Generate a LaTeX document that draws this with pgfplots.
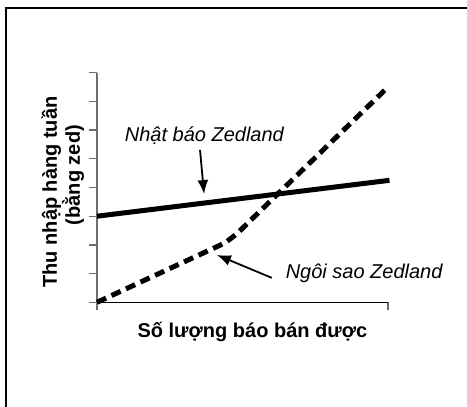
\documentclass[border=0pt]{standalone}
\usepackage{pgfplots}
\pgfplotsset{compat=1.18}
\usepackage{fontspec}
\setmainfont{Liberation Sans}
\usetikzlibrary{arrows.meta}
\definecolor{axgray}{RGB}{110,110,110}
\begin{document}
\begin{tikzpicture}
\useasboundingbox (-97bp,-104.7bp) rectangle (370bp,302.3bp);
\draw[line width=2bp] (-91bp,-130bp) -- (-91bp,294.3bp) -- (390bp,294.3bp);
\begin{axis}[
  at={(0,0)}, anchor=south west,
  scale only axis, width=291bp, height=229.6bp,
  xmin=0, xmax=10, ymin=0, ymax=8,
  axis x line*=bottom, axis y line*=left,
  x axis line style={black, line width=1bp, -},
  y axis line style={axgray, line width=1.3bp, -},
  xtick={0,10}, xticklabels={},
  ytick={0,1,...,8}, yticklabels={},
  tick align=outside,
  major tick length=8bp,
  tick style={axgray, line width=1.3bp},
  clip=false,
  xlabel={\bfseries Số lượng báo bán được},
  xlabel style={at={([yshift=-34.7bp]axis description cs:0.534,0)}, anchor=base, font=\fontsize{20bp}{22bp}\selectfont},
  ylabel={\bfseries Thu nhập hàng tuần},
  ylabel style={at={([xshift=-40bp]axis description cs:0,0.48)}, anchor=base, font=\fontsize{20bp}{22bp}\selectfont},
]
\addplot[black, line width=5bp] coordinates {(0,3) (10.05,4.25)};
\addplot[black, line width=5bp, dash pattern=on 10bp off 6bp] coordinates {(0,0) (4.4,2.07) (4.8,2.38) (5.2,2.78) (10,7.5)};
\node[rotate=90, anchor=base, font=\fontsize{20bp}{22bp}\selectfont\bfseries] at ([xshift=-17bp]axis description cs:0,0.554) {(bằng zed)};
\node[anchor=base, font=\fontsize{20bp}{22bp}\selectfont\itshape] at (axis cs:3.69,5.6) {Nhật báo Zedland};
\node[anchor=base, font=\fontsize{20bp}{22bp}\selectfont\itshape] at (axis cs:9.18,0.836) {Ngôi sao Zedland};
\draw[line width=1.8bp, -{Latex[length=14bp,width=11bp]}] (axis cs:3.54,5.31) -- (axis cs:3.68,3.77);
\draw[line width=1.8bp, -{Latex[length=14bp,width=11bp]}] (axis cs:6.01,0.85) -- (axis cs:4.12,1.65);
\end{axis}
\end{tikzpicture}
\end{document}
